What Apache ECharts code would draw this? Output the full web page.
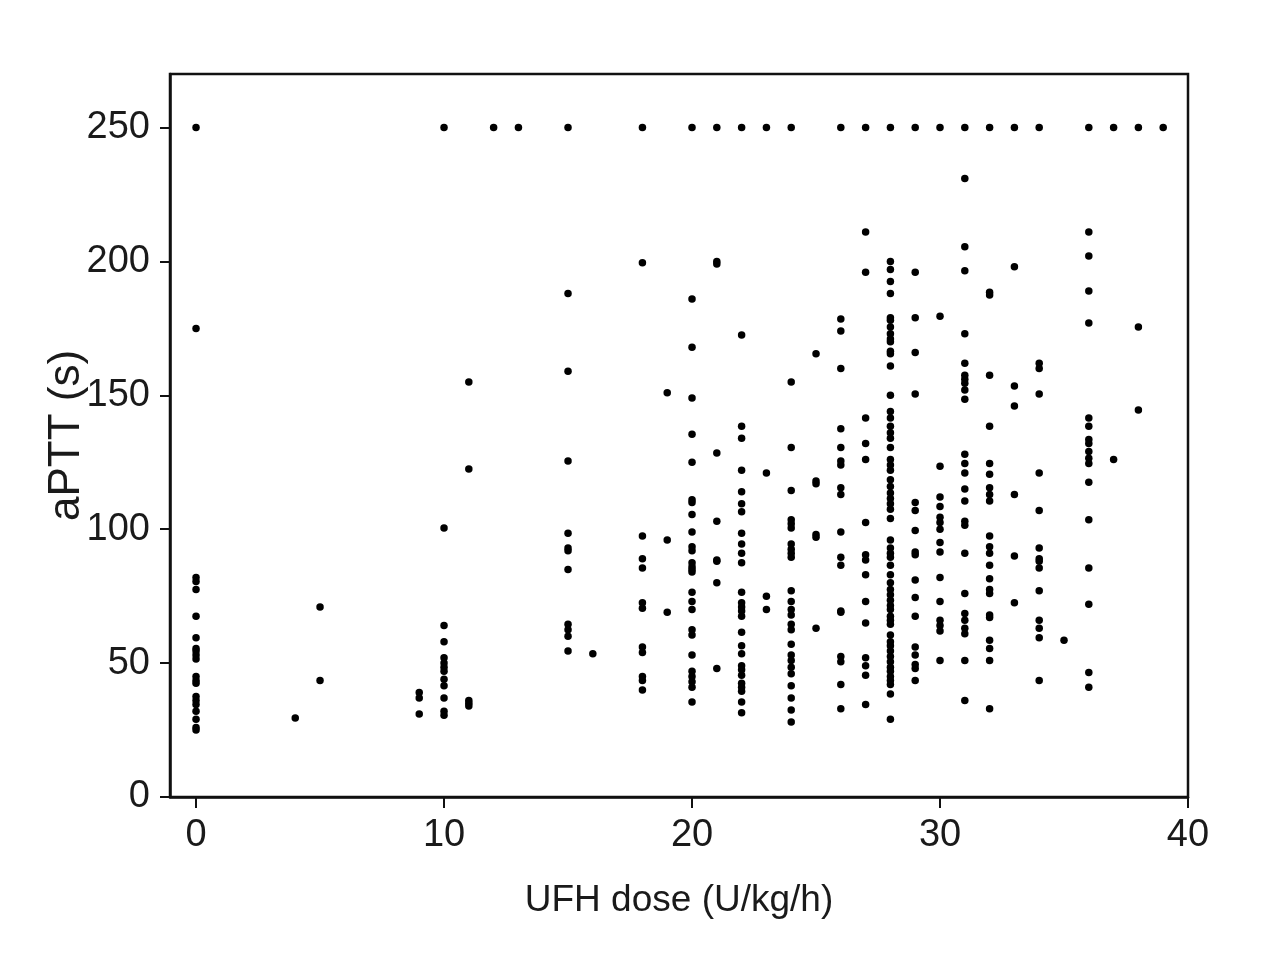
<!DOCTYPE html>
<html>
<head>
<meta charset="utf-8">
<script src="https://cdn.jsdelivr.net/npm/echarts@6/dist/echarts.min.js"></script>
<style>
html,body{margin:0;padding:0;background:#fff;}
#chart{width:1280px;height:963px;}
</style>
</head>
<body>
<div id="chart"></div>
<script>
// UFH dose (U/kg/h) columns and aPTT (s) values
const aptt_0  = [250, 175, 82, 80.5, 77.5, 67.5, 59.5, 55.5, 54.5, 53, 51.5, 45, 43.5, 42.5, 37.5, 36, 34.5, 32, 29, 26, 25];
const aptt_4  = [29.5];
const aptt_5  = [71, 43.5];
const aptt_9  = [39, 37, 31];
const aptt_10 = [250, 100.5, 64, 58, 52, 50, 48.5, 47, 44, 41.5, 37, 32, 30.5];
const aptt_11 = [155, 122.5, 36, 35, 34];
const aptt_12 = [250];
const aptt_13 = [250];
const aptt_15 = [250, 188, 159, 125.5, 98.5, 93, 92, 85, 64.5, 62.5, 60, 54.5];
const aptt_16 = [53.5];
const aptt_18 = [250, 199.5, 97.5, 89, 85.5, 72.5, 70.5, 56, 54, 45, 43.5, 40];
const aptt_19 = [151, 96, 69];
const aptt_20 = [250, 186, 168, 149, 135.5, 125, 111, 110, 105.5, 99, 93.5, 92, 87.5, 86, 85, 84, 76.5, 73, 70, 62.5, 60.5, 53, 47, 45, 43, 41, 35.5];
const aptt_21 = [250, 200, 199, 128.5, 103, 88.5, 88, 80, 48];
const aptt_22 = [250, 172.5, 138.5, 134, 122, 114, 109.5, 106.5, 98.5, 94.5, 91, 87.5, 76.5, 72.5, 71, 69.5, 67.5, 61.5, 56.5, 53.5, 49, 47.5, 45.5, 42.5, 41, 39.5, 35.5, 31.5];
const aptt_23 = [250, 121, 75, 70];
const aptt_24 = [250, 155, 130.5, 114.5, 103.5, 102, 100.5, 94.5, 92.5, 91, 89.5, 77, 73, 70, 68, 64.5, 62.5, 57, 53, 51, 48.5, 46, 41.5, 37, 32.5, 28];
const aptt_25 = [165.5, 118, 117, 98, 97, 63];
const aptt_26 = [250, 178.5, 174, 160, 137.5, 130.5, 125.5, 124, 115.5, 113, 99, 89.5, 86.5, 69.5, 69, 52.5, 50.5, 42, 33];
const aptt_27 = [250, 211, 196, 141.5, 132, 126, 102.5, 90.5, 88.5, 83, 73, 65, 52, 49, 45.5, 34.5];
const aptt_28 = [250, 200, 197, 192.5, 188, 179, 178, 175.5, 173, 171, 170, 166.5, 165.5, 161, 150, 144, 141.5, 138.5, 136, 134, 130.5, 126, 124, 122, 118.5, 116, 113.5, 111.5, 109.5, 107.5, 104, 96, 93, 91, 89.5, 86.5, 83, 80, 77.5, 75.5, 73.5, 71.5, 70, 67.5, 66, 64.5, 60.5, 58, 56.5, 54.5, 52.5, 50.5, 48.5, 47, 45, 43.5, 42, 38.5, 29];
const aptt_29 = [250, 196, 179, 166, 150.5, 110, 107, 99.5, 91.5, 90.5, 81, 74.5, 67.5, 56, 53, 49.5, 48, 43.5];
const aptt_30 = [250, 179.5, 123.5, 112, 108.5, 104.5, 102.5, 100, 95, 91.5, 82, 73, 66, 64, 62, 51];
const aptt_31 = [250, 231, 205.5, 196.5, 173, 162, 157.5, 156, 154.5, 152, 148.5, 128, 124.5, 121, 115, 110.5, 103, 101.5, 91, 76, 68.5, 66, 63, 61, 51, 36];
const aptt_32 = [250, 188.5, 187.5, 157.5, 138.5, 124.5, 120.5, 115.5, 113, 110.5, 97.5, 93.5, 91, 86.5, 81.5, 77.5, 76, 68, 67, 58.5, 55.5, 51, 33];
const aptt_33 = [250, 198, 153.5, 146, 113, 90, 72.5];
const aptt_34 = [250, 162, 160, 150.5, 121, 107, 93, 89, 88, 85.5, 77, 66, 63, 59.5, 43.5];
const aptt_35 = [58.5];
const aptt_36 = [250, 211, 202, 189, 177, 141.5, 138.5, 133.5, 132, 129, 126.5, 124.5, 117.5, 103.5, 85.5, 72, 46.5, 41];
const aptt_37 = [250, 126];
const aptt_38 = [250, 175.5, 144.5];
const aptt_39 = [250];

const doses = [0, 4, 5, 9, 10, 11, 12, 13, 15, 16, 18, 19, 20, 21, 22, 23, 24, 25, 26, 27, 28, 29, 30, 31, 32, 33, 34, 35, 36, 37, 38, 39];
const columns = [aptt_0, aptt_4, aptt_5, aptt_9, aptt_10, aptt_11, aptt_12, aptt_13, aptt_15, aptt_16, aptt_18, aptt_19, aptt_20, aptt_21, aptt_22, aptt_23, aptt_24, aptt_25, aptt_26, aptt_27, aptt_28, aptt_29, aptt_30, aptt_31, aptt_32, aptt_33, aptt_34, aptt_35, aptt_36, aptt_37, aptt_38, aptt_39];

const xTicks = [0, 10, 20, 30, 40];
const yTicks = [0, 50, 100, 150, 200, 250];

const points = [];
doses.forEach((d, i) => columns[i].forEach(v => points.push([d, v])));

const FONT = "'Liberation Sans', Arial, sans-serif";
const chart = echarts.init(document.getElementById('chart'), null, {renderer: 'canvas'});
chart.setOption({
  animation: false,
  backgroundColor: '#fff',
  grid: {left: 170, right: 92, top: 74, bottom: 166, show: true, borderColor: '#111', borderWidth: 2.5, backgroundColor: 'transparent'},
  xAxis: {
    type: 'value', min: -1.05, max: 40,
    name: 'UFH dose (U/kg/h)', nameLocation: 'middle', nameGap: 85, nameMoveOverlap: false,
    nameTextStyle: {fontFamily: FONT, fontSize: 37, color: '#1a1a1a'},
    axisLine: {show: true, onZero: false, lineStyle: {color: '#111', width: 2.5}},
    axisTick: {show: true, inside: false, length: 11, customValues: xTicks, lineStyle: {color: '#111', width: 2}},
    axisLabel: {show: true, margin: 20, customValues: xTicks, fontFamily: FONT, fontSize: 38, color: '#1a1a1a'},
    splitLine: {show: false}
  },
  yAxis: {
    type: 'value', min: 0, max: 270,
    name: 'aPTT (s)', nameLocation: 'middle', nameGap: 81, nameMoveOverlap: false,
    nameTextStyle: {fontFamily: FONT, fontSize: 44, color: '#1a1a1a'},
    axisLine: {show: true, onZero: false, lineStyle: {color: '#111', width: 2.5}},
    axisTick: {show: true, inside: false, length: 10, customValues: yTicks, lineStyle: {color: '#111', width: 2}},
    axisLabel: {show: true, margin: 20, customValues: yTicks, fontFamily: FONT, fontSize: 38, color: '#1a1a1a'},
    splitLine: {show: false}
  },
  series: [{
    type: 'scatter',
    data: points,
    symbol: 'circle',
    symbolSize: 7.5,
    itemStyle: {color: '#000', opacity: 1},
    emphasis: {disabled: true}
  }]
});
</script>
</body>
</html>
